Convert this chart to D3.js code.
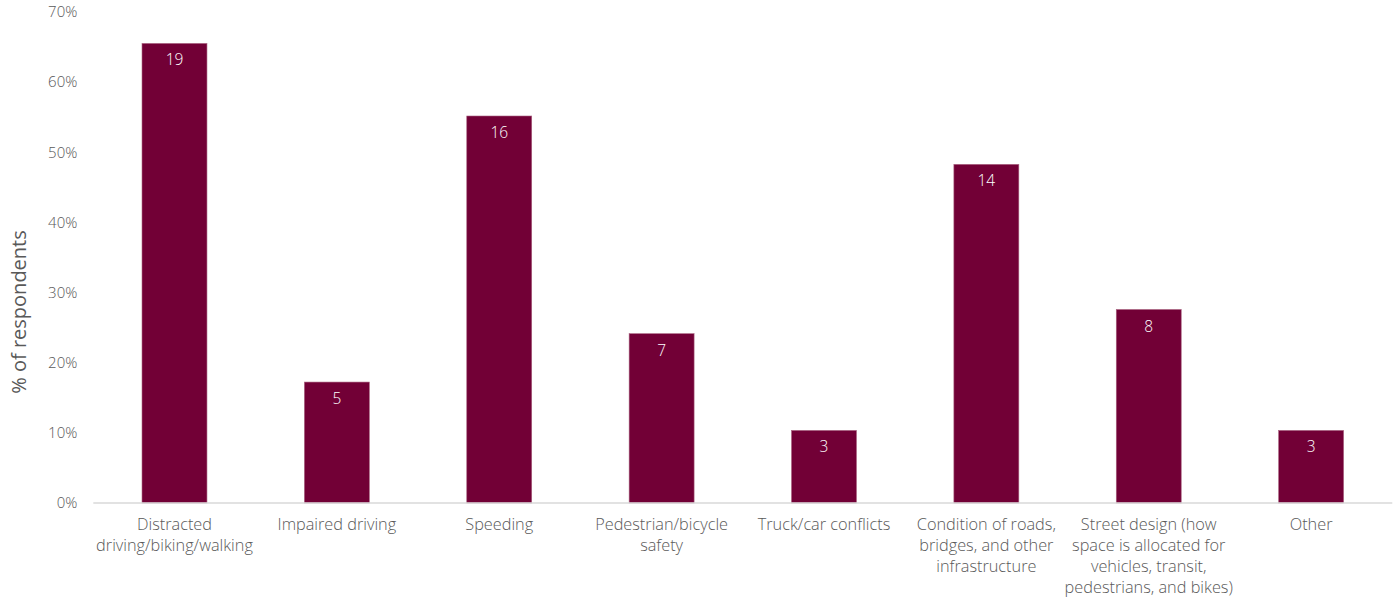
<!DOCTYPE html>
<html><head><meta charset="utf-8">
<script src="https://cdn.jsdelivr.net/npm/d3@7"></script>
<style>body{margin:0;background:#fff}</style>
</head><body>
<svg id="c" width="1397" height="599"></svg>
<script>
const categories = [
  ["Distracted","driving/biking/walking"],
  ["Impaired driving"],
  ["Speeding"],
  ["Pedestrian/bicycle","safety"],
  ["Truck/car conflicts"],
  ["Condition of roads,","bridges, and other","infrastructure"],
  ["Street design (how","space is allocated for","vehicles, transit,","pedestrians, and bikes)"],
  ["Other"]
];
const counts = [19, 5, 16, 7, 3, 14, 8, 3];
const totalRespondents = 29;
const yTicks = [0, 0.1, 0.2, 0.3, 0.4, 0.5, 0.6, 0.7];

(function(){
const svg = d3.select("#c");
const font = "'Open Sans', sans-serif";
const mLeft = 93.3, mRight = 1392.3, mTop = 12, mBottom = 503;
const x = d3.scaleBand().domain(d3.range(categories.length)).range([mLeft, mRight]).paddingInner(0.6).paddingOuter(0.3);
const y = d3.scaleLinear().domain([0, 0.7]).range([mBottom, mTop]);

const yAxis = d3.axisLeft(y).tickValues(yTicks).tickFormat(d3.format(".0%")).tickSize(0).tickPadding(16);
const gy = svg.append("g").attr("transform", `translate(${mLeft},0)`).call(yAxis);
gy.select(".domain").remove();
gy.selectAll("text").attr("font-family", font).attr("font-size", 15).attr("font-weight", 300).attr("fill", "#595959");

svg.selectAll("rect.bar").data(counts).join("rect")
  .attr("x", (d,i) => x(i)).attr("width", x.bandwidth())
  .attr("y", d => y(d/totalRespondents)).attr("height", d => mBottom - y(d/totalRespondents))
  .attr("fill", "#720036").attr("stroke", "#a8607f").attr("stroke-width", 0.6);

svg.append("line").attr("x1", mLeft).attr("x2", mRight).attr("y1", mBottom).attr("y2", mBottom)
  .attr("stroke", "#d9d9d9").attr("stroke-width", 1.5);

svg.selectAll("text.val").data(counts).join("text")
  .attr("x", (d,i) => x(i) + x.bandwidth()/2).attr("y", d => y(d/totalRespondents) + 22)
  .attr("text-anchor", "middle").attr("font-family", font).attr("font-size", 15.5).attr("font-weight", 300)
  .attr("fill", "#fff").text(d => d);

const cat = svg.selectAll("text.cat").data(categories).join("text")
  .attr("text-anchor", "middle").attr("font-family", font).attr("font-size", 16.3).attr("font-weight", 300)
  .attr("fill", "#595959");
cat.each(function(lines, i){
  d3.select(this).selectAll("tspan").data(lines).join("tspan")
    .attr("x", x(i) + x.bandwidth()/2).attr("y", (d,j) => 530 + j*21).text(d => d);
});

svg.append("text").attr("transform", "translate(26,312) rotate(-90)")
  .attr("text-anchor", "middle").attr("font-family", "'Open Sans', sans-serif").attr("font-size", 20)
  .attr("fill", "#595959").text("% of respondents");
})();
</script>
</body></html>
